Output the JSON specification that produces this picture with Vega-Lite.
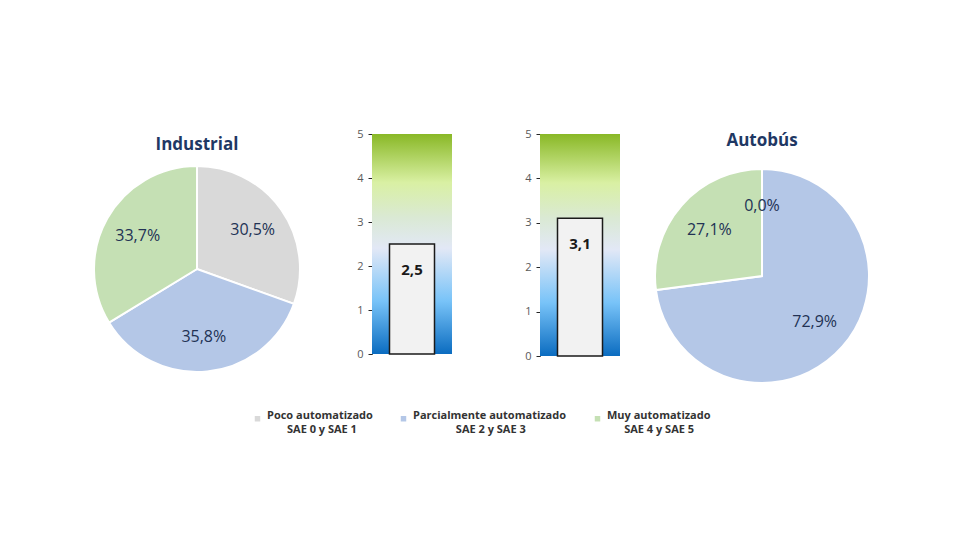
{
  "$schema": "https://vega.github.io/schema/vega-lite/v6.json",
  "background": "white",
  "padding": {"left": 90, "top": 128, "right": 10, "bottom": 10},
  "bounds": "flush",
  "spacing": 88,
  "config": {
    "view": {"stroke": null},
    "font": "Open Sans",
    "style": {"guide-label": {"lineHeight": 14}},
    "locale": {"number": {"decimal": ",", "thousands": ".", "grouping": [3], "currency": ["", " €"]}}
  },
  "datasets": {
    "sectores": [
      {"grafico": "Industrial", "nivel": "Poco automatizado", "orden": 1, "cuota": 0.305},
      {"grafico": "Industrial", "nivel": "Parcialmente automatizado", "orden": 2, "cuota": 0.358},
      {"grafico": "Industrial", "nivel": "Muy automatizado", "orden": 3, "cuota": 0.337},
      {"grafico": "Autobús", "nivel": "Poco automatizado", "orden": 1, "cuota": 0.0},
      {"grafico": "Autobús", "nivel": "Parcialmente automatizado", "orden": 2, "cuota": 0.729},
      {"grafico": "Autobús", "nivel": "Muy automatizado", "orden": 3, "cuota": 0.271}
    ],
    "indices": [
      {"grafico": "Industrial", "indice": 2.5},
      {"grafico": "Autobús", "indice": 3.1}
    ]
  },
  "hconcat": [
    {
      "width": 174, "height": 270,
      "title": {"text": "Industrial", "offset": -28, "baseline": "middle", "fontSize": 17, "fontWeight": "bold", "color": "#1f3864", "font": "Open Sans", "anchor": "middle", "frame": "group"},
      "data": {"name": "sectores"},
      "transform": [{"filter": "datum.grafico === 'Industrial'"}],
      "encoding": {
        "theta": {"field": "cuota", "type": "quantitative", "stack": true},
        "order": {"field": "orden", "type": "quantitative"},
        "color": {
          "field": "nivel", "type": "nominal",
          "scale": {"domain": ["Poco automatizado", "Parcialmente automatizado", "Muy automatizado"], "range": ["#d9d9d9", "#b4c7e7", "#c5e0b4"]},
          "legend": {
            "orient": "none", "legendX": 142, "legendY": 279,
            "direction": "horizontal", "title": null, "padding": 0,
            "symbolType": "square", "symbolSize": 30, "symbolStrokeWidth": 0,
            "labelFont": "Open Sans", "labelFontSize": 11, "labelFontWeight": "bold", "labelColor": "#333333",
            "labelOffset": 4, "columnPadding": 25, "labelLimit": 0, "labelBaseline": "alphabetic",
            "labelExpr": "datum.label == 'Poco automatizado' ? ['Poco automatizado', '\u200b\u00a0\u00a0\u00a0\u00a0\u00a0\u00a0\u00a0SAE 0 y SAE 1'] : datum.label == 'Parcialmente automatizado' ? ['Parcialmente automatizado', '\u200b\u00a0\u00a0\u00a0\u00a0\u00a0\u00a0\u00a0\u00a0\u00a0\u00a0\u00a0\u00a0\u00a0\u00a0\u00a0SAE 2 y SAE 3'] : ['Muy automatizado', '\u200b\u00a0\u00a0\u00a0\u00a0\u00a0\u00a0SAE 4 y SAE 5']"
          }
        }
      },
      "layer": [
        {"mark": {"type": "arc", "outerRadius": 103, "stroke": "white", "strokeWidth": 2}},
        {
          "mark": {"type": "text", "radius": 68, "fontSize": 16, "font": "Open Sans"},
          "encoding": {
            "text": {"field": "cuota", "type": "quantitative", "format": ".1%"},
            "color": {"value": "#223254"},
            "detail": {"field": "nivel", "type": "nominal"}
          }
        }
      ]
    },
    {
      "width": 80, "height": 220,
      "data": {"name": "indices"},
      "transform": [{"filter": "datum.grafico === 'Industrial'"}],
      "layer": [
        {
          "mark": {"type": "rect", "fill": {"gradient": "linear", "x1": 0, "y1": 1, "x2": 0, "y2": 0, "stops": [{"offset": 0, "color": "#0b6cc0"}, {"offset": 0.24, "color": "#78c3f8"}, {"offset": 0.48, "color": "#e2e8f6"}, {"offset": 0.62, "color": "#dae9d4"}, {"offset": 0.78, "color": "#d9f0a3"}, {"offset": 1, "color": "#89b826"}]}},
          "encoding": {"x": {"value": 0}, "x2": {"value": "width"}, "y": {"datum": 0, "type": "quantitative"}, "y2": {"datum": 5}}
        },
        {
          "mark": {"type": "bar", "width": 45, "fill": "#f2f2f2", "stroke": "#1a1a1a", "strokeWidth": 1.5},
          "encoding": {
            "x": {"field": "grafico", "type": "nominal", "axis": null},
            "y": {"field": "indice", "type": "quantitative", "scale": {"domain": [0, 5], "nice": false}, "axis": {"title": null, "values": [0, 1, 2, 3, 4, 5], "format": "d", "grid": false, "domainColor": "#262626", "tickColor": "#262626", "tickSize": 4, "labelColor": "#595959", "labelFontSize": 11, "labelPadding": 5, "labelFont": "Open Sans"}}
          }
        },
        {
          "mark": {"type": "text", "dy": 26, "fontSize": 15, "fontWeight": "bold", "color": "#1a1a1a", "font": "Open Sans"},
          "encoding": {
            "x": {"field": "grafico", "type": "nominal", "axis": null},
            "y": {"field": "indice", "type": "quantitative"},
            "text": {"field": "indice", "type": "quantitative", "format": ".1f"}
          }
        }
      ]
    },
    {
      "width": 80, "height": 222,
      "data": {"name": "indices"},
      "transform": [{"filter": "datum.grafico === 'Autobús'"}],
      "layer": [
        {
          "mark": {"type": "rect", "fill": {"gradient": "linear", "x1": 0, "y1": 1, "x2": 0, "y2": 0, "stops": [{"offset": 0, "color": "#0b6cc0"}, {"offset": 0.24, "color": "#78c3f8"}, {"offset": 0.48, "color": "#e2e8f6"}, {"offset": 0.62, "color": "#dae9d4"}, {"offset": 0.78, "color": "#d9f0a3"}, {"offset": 1, "color": "#89b826"}]}},
          "encoding": {"x": {"value": 0}, "x2": {"value": "width"}, "y": {"datum": 0, "type": "quantitative"}, "y2": {"datum": 5}}
        },
        {
          "mark": {"type": "bar", "width": 45, "fill": "#f2f2f2", "stroke": "#1a1a1a", "strokeWidth": 1.5},
          "encoding": {
            "x": {"field": "grafico", "type": "nominal", "axis": null},
            "y": {"field": "indice", "type": "quantitative", "scale": {"domain": [0, 5], "nice": false}, "axis": {"title": null, "values": [0, 1, 2, 3, 4, 5], "format": "d", "grid": false, "domainColor": "#262626", "tickColor": "#262626", "tickSize": 4, "labelColor": "#595959", "labelFontSize": 11, "labelPadding": 5, "labelFont": "Open Sans"}}
          }
        },
        {
          "mark": {"type": "text", "dy": 26, "fontSize": 15, "fontWeight": "bold", "color": "#1a1a1a", "font": "Open Sans"},
          "encoding": {
            "x": {"field": "grafico", "type": "nominal", "axis": null},
            "y": {"field": "indice", "type": "quantitative"},
            "text": {"field": "indice", "type": "quantitative", "format": ".1f"}
          }
        }
      ]
    },
    {
      "width": 108, "height": 284,
      "title": {"text": "Autobús", "offset": -24, "baseline": "middle", "fontSize": 17, "fontWeight": "bold", "color": "#1f3864", "font": "Open Sans", "anchor": "middle", "frame": "group"},
      "data": {"name": "sectores"},
      "transform": [{"filter": "datum.grafico === 'Autobús'"}],
      "encoding": {
        "theta": {"field": "cuota", "type": "quantitative", "stack": true},
        "order": {"field": "orden", "type": "quantitative"},
        "color": {
          "field": "nivel", "type": "nominal",
          "scale": {"domain": ["Poco automatizado", "Parcialmente automatizado", "Muy automatizado"], "range": ["#d9d9d9", "#b4c7e7", "#c5e0b4"]}
        }
      },
      "layer": [
        {"mark": {"type": "arc", "outerRadius": 107, "stroke": "white", "strokeWidth": 2}},
        {
          "mark": {"type": "text", "radius": 70, "fontSize": 16, "font": "Open Sans"},
          "encoding": {
            "text": {"field": "cuota", "type": "quantitative", "format": ".1%"},
            "color": {"value": "#223254"},
            "detail": {"field": "nivel", "type": "nominal"}
          }
        }
      ]
    }
  ]
}
